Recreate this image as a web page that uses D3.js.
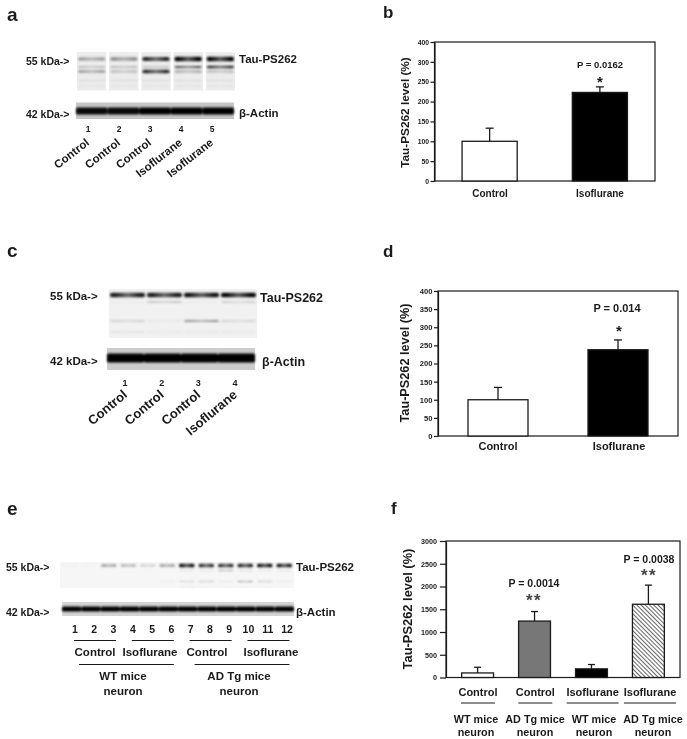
<!DOCTYPE html>
<html>
<head>
<meta charset="utf-8">
<style>
	html, body { margin: 0; padding: 0; background: #fff; }
	svg { display: block; filter: blur(0.35px); }
	text { font-family: "Liberation Sans", Arial, sans-serif; font-weight: bold; fill: #1a1a1a; }
</style>
<script src="https://cdn.jsdelivr.net/npm/d3@7/dist/d3.min.js"></script>
</head>
<body>
<div id="chart"></div>
<script>
// bar charts
const groupsAB = ["Control", "Isoflurane"];
const valuesB = [100, 223];
const errorsB = [133, 237];
const tickValuesB = [0, 50, 100, 150, 200, 250, 300, 350];
const tickLabelsB = ["0", "50", "100", "150", "200", "250", "300", "400"]; // sic, top tick reads 400 in the figure

const valuesD = [100, 238];
const errorsD = [134, 265];
const tickValuesD = [0, 50, 100, 150, 200, 250, 300, 350, 400];

const groupsF = ["WT Control", "AD Control", "WT Isoflurane", "AD Isoflurane"];
const treatmentF = ["Control", "Control", "Isoflurane", "Isoflurane"];
const strainF = ["WT mice", "AD Tg mice", "WT mice", "AD Tg mice"];
const valuesF = [100, 1240, 190, 1610];
const errorsF = [225, 1450, 285, 2030];
const tickValuesF = [0, 500, 1000, 1500, 2000, 2500, 3000];

// blot lanes, band darkness per lane 0..1
const lanesA = ["1", "2", "3", "4", "5"];
const namesA = ["Control", "Control", "Control", "Isoflurane", "Isoflurane"];
const tauA1 = [0.38, 0.42, 0.85, 1, 1];
const tauA2 = [0.3, 0.3, 0.25, 0.7, 0.85];
const tauA3 = [0.38, 0.22, 0.85, 0.3, 0.22];
const tauA4 = [0.12, 0.12, 0.12, 0.1, 0.1];
const tauA5 = [0.07, 0.07, 0.07, 0.07, 0.07];
const actinA = [0.95, 0.95, 1, 1, 1];

const lanesC = ["1", "2", "3", "4"];
const namesC = ["Control", "Control", "Control", "Isoflurane"];
const tauC1 = [0.9, 0.9, 0.95, 1];
const tauC2 = [0.06, 0.25, 0.06, 0.2];
const tauC3 = [0.2, 0.06, 0.4, 0.18];
const tauC4 = [0.07, 0.05, 0.06, 0.06];
const actinC = [1, 1, 1, 1];

const lanesE = ["1", "2", "3", "4", "5", "6", "7", "8", "9", "10", "11", "12"];
const tauE1 = [0.03, 0.02, 0.4, 0.3, 0.2, 0.4, 1, 0.85, 0.85, 0.9, 1, 0.95];
const tauE2 = [0, 0, 0, 0, 0, 0, 0.12, 0.12, 0.4, 0.15, 0.1, 0.12];
const tauE3 = [0, 0, 0, 0, 0, 0.05, 0.2, 0.25, 0.08, 0.45, 0.25, 0.07];
const tauE4 = [0, 0, 0, 0, 0, 0, 0.15, 0.04, 0.04, 0.04, 0.04, 0.03];
const actinE = [1, 1, 1, 1, 1, 1, 1, 1, 1, 1, 1, 1];
const groupsE = [["1", "3", "Control"], ["4", "6", "Isoflurane"], ["7", "9", "Control"], ["10", "12", "Isoflurane"]];
const strainsE = [["WT mice", "neuron"], ["AD Tg mice", "neuron"]];

const svg = d3.select("#chart").append("svg").attr("width", 687).attr("height", 739);
const defs = svg.append("defs");

defs.append("filter").attr("id", "soft")
	.attr("x", "-20%").attr("y", "-100%").attr("width", "140%").attr("height", "300%")
	.append("feGaussianBlur").attr("stdDeviation", 0.9);

// bands are heavier at the lane edges
const laneGrad = defs.append("linearGradient").attr("id", "laneBand");
[[0, 0.85], [0.12, 1], [0.5, 0.62], [0.88, 1], [1, 0.85]].forEach(s => {
	laneGrad.append("stop").attr("offset", s[0]).attr("stop-color", "#000").attr("stop-opacity", s[1]);
});

const hatch = defs.append("pattern").attr("id", "hatch").attr("width", 3).attr("height", 3)
	.attr("patternUnits", "userSpaceOnUse").attr("patternTransform", "rotate(45)");
hatch.append("rect").attr("width", 3).attr("height", 3).attr("fill", "#fff");
hatch.append("line").attr("x1", 0).attr("x2", 3).attr("y1", 1.5).attr("y2", 1.5)
	.attr("stroke", "#666").attr("stroke-width", 1);

const label = (x, y, s, size, anchor) => svg.append("text")
	.attr("x", x).attr("y", y).attr("font-size", size)
	.attr("text-anchor", anchor || "start").text(s);

function blot(o) {
	const x = d3.scaleBand().domain(o.lanes).range([o.x0, o.x1]).paddingInner(o.gap || 0);
	const inset = o.inset === undefined ? 1 : o.inset;
	const g = svg.append("g");
	g.selectAll("rect.bg").data(o.gap ? o.lanes : [o.lanes[0]]).enter().append("rect")
		.attr("class", "bg")
		.attr("x", d => o.gap ? x(d) : o.x0)
		.attr("width", o.gap ? x.bandwidth() : o.x1 - o.x0)
		.attr("y", o.y0).attr("height", o.y1 - o.y0)
		.attr("fill", o.bg);
	const bands = g.append("g").attr("filter", "url(#soft)");
	o.rows.forEach(r => {
		bands.selectAll(null).data(r.values).enter().append("rect")
			.attr("x", (d, i) => x(o.lanes[i]) + inset)
			.attr("width", x.bandwidth() - 2 * inset)
			.attr("y", d => r.y - r.h * (0.55 + 0.45 * d) / 2)
			.attr("height", d => r.h * (0.55 + 0.45 * d))
			.attr("rx", 1.5)
			.attr("fill", o.solid ? "#000" : "url(#laneBand)")
			.attr("fill-opacity", d => d);
	});
}

function barChart(o) {
	const x = d3.scaleBand().domain(o.groups).range([o.x0, o.x1]).paddingInner(o.pi).paddingOuter(o.po);
	const y = d3.scaleLinear().domain(o.domain).range([o.y1, o.y0]);
	const g = svg.append("g");

	g.append("rect").attr("x", o.x0).attr("y", o.y0)
		.attr("width", o.x1 - o.x0).attr("height", o.y1 - o.y0)
		.attr("fill", "none").attr("stroke", "#1a1a1a").attr("stroke-width", 1.2);

	const axis = d3.axisLeft(y).tickValues(o.ticks).tickSize(o.tick).tickSizeOuter(0)
		.tickPadding(o.pad)
		.tickFormat((d, i) => o.tickLabels ? o.tickLabels[i] : d);
	const ax = g.append("g").attr("transform", `translate(${o.x0},0)`).call(axis);
	ax.selectAll("text").attr("font-size", o.tickFont).attr("font-family", null);
	ax.selectAll("line").attr("stroke", "#1a1a1a").attr("stroke-width", 1.2);
	ax.select(".domain").attr("stroke", "#1a1a1a").attr("stroke-width", 1.2);

	o.groups.forEach((k, i) => {
		const cx = x(k) + x.bandwidth() / 2;
		g.append("line").attr("x1", cx).attr("x2", cx)
			.attr("y1", y(o.values[i])).attr("y2", y(o.errors[i]))
			.attr("stroke", "#1a1a1a").attr("stroke-width", 1.3);
		g.append("line").attr("x1", cx - o.cap).attr("x2", cx + o.cap)
			.attr("y1", y(o.errors[i])).attr("y2", y(o.errors[i]))
			.attr("stroke", "#1a1a1a").attr("stroke-width", 1.3);
		g.append("rect").attr("x", x(k)).attr("width", x.bandwidth())
			.attr("y", y(o.values[i])).attr("height", y(0) - y(o.values[i]))
			.attr("fill", o.fills[i]).attr("stroke", "#1a1a1a").attr("stroke-width", 1.3);
	});

	svg.append("text")
		.attr("transform", `translate(${o.titleX},${(o.titleY0 + o.titleY1) / 2}) rotate(-90)`)
		.attr("text-anchor", "middle").attr("font-size", o.titleFont)
		.text("Tau-PS262 level (%)");
}

function laneNumbers(lanes, x0, x1, y, size) {
	const x = d3.scalePoint().domain(lanes).range([x0, x1]);
	svg.selectAll(null).data(lanes).enter().append("text")
		.attr("x", d => x(d)).attr("y", y).attr("font-size", size)
		.attr("text-anchor", "middle").text(d => d);
	return x;
}

function slanted(lanes, names, x, dx, y, size, angle) {
	svg.selectAll(null).data(lanes).enter().append("text")
		.attr("transform", d => `translate(${x(d) + dx},${y}) rotate(${angle})`)
		.attr("font-size", size).attr("text-anchor", "end")
		.text((d, i) => names[i]);
}

// --- panel a
label(7, 21, "a", 19);
blot({ lanes: lanesA, x0: 77, x1: 235, y0: 52, y1: 90.5, gap: 0.09, bg: "#ececec", rows: [
	{ y: 59, h: 4.5, values: tauA1 },
	{ y: 67, h: 2.5, values: tauA2 },
	{ y: 71.5, h: 3.5, values: tauA3 },
	{ y: 80.5, h: 2, values: tauA4 },
	{ y: 86, h: 2, values: tauA5 }
] });
blot({ lanes: lanesA, x0: 76, x1: 234, y0: 102.5, y1: 119, bg: "#c6c6c6", solid: true, inset: 0, rows: [
	{ y: 111, h: 7, values: actinA }
] });
label(26, 65, "55 kDa->", 10.5);
label(26, 118, "42 kDa->", 10.5);
label(239, 63, "Tau-PS262", 11.5);
label(239, 117, "β-Actin", 11.5);
const numA = laneNumbers(lanesA, 88, 212, 132, 8.5);
slanted(lanesA, namesA, numA, 2, 144, 11.5, -38);

// --- panel b
label(383, 18, "b", 17);
barChart({ groups: groupsAB, values: valuesB, errors: errorsB, domain: [0, 350],
	ticks: tickValuesB, tickLabels: tickLabelsB,
	x0: 434.5, x1: 655, y0: 42, y1: 181, pi: 0.5, po: 0.25, tick: 4, pad: 1.5, cap: 4,
	fills: ["#fff", "#000"], tickFont: 6.8,
	titleX: 409, titleY0: 57, titleY1: 168, titleFont: 11.8 });
label(490, 197, "Control", 10, "middle");
label(600, 197, "Isoflurane", 10, "middle");
label(600, 68, "P = 0.0162", 9.5, "middle");
label(600, 86.5, "*", 15, "middle");

// --- panel c
label(7, 257, "c", 19);
blot({ lanes: lanesC, x0: 109, x1: 257, y0: 289, y1: 338, bg: "#f1f1f1", rows: [
	{ y: 295, h: 4.5, values: tauC1 },
	{ y: 302, h: 2, values: tauC2 },
	{ y: 321, h: 2.5, values: tauC3 },
	{ y: 332, h: 3, values: tauC4 }
] });
blot({ lanes: lanesC, x0: 107, x1: 255, y0: 348, y1: 370, bg: "#cccccc", solid: true, inset: 0, rows: [
	{ y: 358, h: 9, values: actinC }
] });
label(50, 300, "55 kDa->", 11.5);
label(50, 365, "42 kDa->", 11.5);
label(260, 302, "Tau-PS262", 12.5);
label(262, 366, "β-Actin", 12.5);
const numC = laneNumbers(lanesC, 125, 235, 386, 9);
slanted(lanesC, namesC, numC, 3, 396, 13, -40);

// --- panel d
label(383, 257, "d", 17);
barChart({ groups: groupsAB, values: valuesD, errors: errorsD, domain: [0, 400],
	ticks: tickValuesD,
	x0: 438, x1: 678, y0: 291, y1: 436, pi: 0.5, po: 0.25, tick: 4, pad: 1.5, cap: 4,
	fills: ["#fff", "#000"], tickFont: 7.6,
	titleX: 409, titleY0: 303, titleY1: 423, titleFont: 12.7 });
label(498, 450, "Control", 11, "middle");
label(619, 450, "Isoflurane", 11, "middle");
label(617, 312, "P = 0.014", 11, "middle");
label(619, 335.5, "*", 15, "middle");

// --- panel e
label(7, 515, "e", 19);
blot({ lanes: lanesE, x0: 60, x1: 294, y0: 562, y1: 588, bg: "#f6f6f6", inset: 2, rows: [
	{ y: 565.5, h: 3.5, values: tauE1 },
	{ y: 570.5, h: 1.5, values: tauE2 },
	{ y: 581.5, h: 1.5, values: tauE3 },
	{ y: 587, h: 1.2, values: tauE4 }
] });
blot({ lanes: lanesE, x0: 62, x1: 294, y0: 602, y1: 616, bg: "#d4d4d4", solid: true, inset: 0, rows: [
	{ y: 609, h: 5, values: actinE }
] });
label(6, 571, "55 kDa->", 10.5);
label(6, 616, "42 kDa->", 10.5);
label(296, 571, "Tau-PS262", 11.5);
label(296, 616, "β-Actin", 11.5);
const numE = laneNumbers(lanesE, 75, 287, 633, 10.5);

const treatX = d3.scaleOrdinal().domain(groupsE.map(d => d[0])).range([95, 150, 207, 271]);
groupsE.forEach(d => {
	svg.append("line").attr("x1", numE(d[0]) - 1).attr("x2", numE(d[1]) + 2.5)
		.attr("y1", 640.5).attr("y2", 640.5)
		.attr("stroke", "#1a1a1a").attr("stroke-width", 1);
	label(treatX(d[0]), 656, d[2], 11.5, "middle");
});
const strainX = d3.scalePoint().domain(strainsE.map(d => d[0])).range([123, 239]);
strainsE.forEach((d, i) => {
	svg.append("line")
		.attr("x1", numE(groupsE[i * 2][0]) + 4)
		.attr("x2", numE(groupsE[i * 2 + 1][1]) + 2.5)
		.attr("y1", 664.5).attr("y2", 664.5)
		.attr("stroke", "#1a1a1a").attr("stroke-width", 1);
	label(strainX(d[0]), 680, d[0], 11.5, "middle");
	label(strainX(d[0]), 695, d[1], 11.5, "middle");
});

// --- panel f
label(391, 514, "f", 17);
barChart({ groups: groupsF, values: valuesF, errors: errorsF, domain: [0, 3000],
	ticks: tickValuesF,
	x0: 446, x1: 680, y0: 541, y1: 677.5, pi: 0.44, po: 0.275, tick: 6, pad: 3, cap: 3.5,
	fills: ["#fff", "#777", "#000", "url(#hatch)"], tickFont: 7.2,
	titleX: 412, titleY0: 548, titleY1: 670, titleFont: 12.9 });

const treatFX = d3.scalePoint().domain(groupsF).range([478, 650]);
const strainFX = d3.scalePoint().domain(groupsF).range([476, 653]);
groupsF.forEach((k, i) => {
	label(treatFX(k), 696, treatmentF[i], 11, "middle");
	const half = treatmentF[i] === "Control" ? 17 : 26;
	svg.append("line").attr("x1", treatFX(k) - half).attr("x2", treatFX(k) + half)
		.attr("y1", 703).attr("y2", 703).attr("stroke", "#1a1a1a").attr("stroke-width", 1);
	label(strainFX(k), 723, strainF[i], 10.8, "middle");
	label(strainFX(k), 736, "neuron", 10.8, "middle");
});
label(534, 587, "P = 0.0014", 10.5, "middle");
label(534, 606, "**", 17, "middle").attr("letter-spacing", 1.5).attr("style", "fill:#444");
label(649, 563, "P = 0.0038", 10.5, "middle");
label(649, 581, "**", 17, "middle").attr("letter-spacing", 1.5).attr("style", "fill:#444");
</script>
</body>
</html>
